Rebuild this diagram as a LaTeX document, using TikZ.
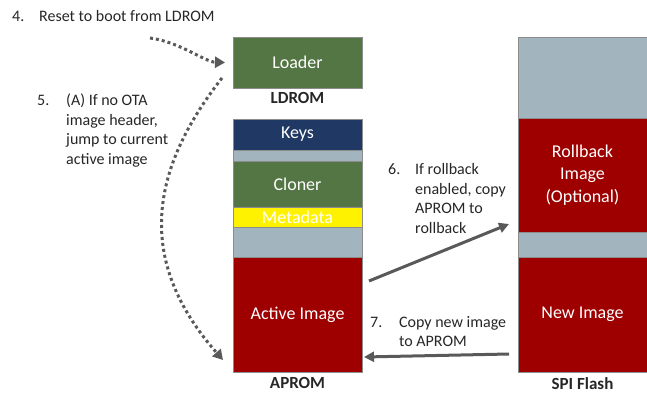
\documentclass[tikz,border=0pt]{standalone}
\usepackage{fontspec}
\setmainfont{Carlito}
\usepackage{tikz}
\usetikzlibrary{positioning, arrows.meta, calc}
\usepackage{xcolor}

\definecolor{ldgreen}{RGB}{84,118,68}
\definecolor{keyblue}{RGB}{31,56,100}
\definecolor{spare}{RGB}{162,180,189}
\definecolor{imgred}{RGB}{158,0,0}
\definecolor{arrowgray}{RGB}{89,89,89}
\definecolor{textdark}{RGB}{38,38,38}

\begin{document}
\begin{tikzpicture}[
  x=1pt, y=-1pt,
  every node/.style={font=\fontsize{16}{19.5}\selectfont, text=textdark},
  block/.style={draw=black!45, line width=0.6pt, minimum width=129pt, inner sep=0pt,
                outer sep=0pt, text=white, font=\fontsize{18}{22.5}\selectfont, align=center},
  memname/.style={font=\fontsize{17}{20}\selectfont\bfseries, anchor=base, inner sep=0pt},
  note/.style={anchor=base west, inner sep=0pt},
  copyarrow/.style={draw=arrowgray, line width=3pt, -{Triangle[length=10pt,width=10pt]}},
  jumparrow/.style={draw=arrowgray, line width=3pt, dash pattern=on 3pt off 3pt,
                    -{Triangle[length=10pt,width=11pt]}}
]
\useasboundingbox (0,0) rectangle (647,406);

% LDROM
\node[block, fill=ldgreen, minimum height=51pt, anchor=north west] (loader) at (233,37) {Loader};
\node[memname] (ldrom) at ($(loader.south)+(0,16)$) {LDROM};

% APROM
\node[block, fill=keyblue, minimum height=31pt, anchor=north west] (keys) at (233,119) {Keys};
\node[block, fill=spare, minimum height=11pt, below=0pt of keys] (gapa) {};
\node[block, fill=ldgreen, minimum height=46pt, below=0pt of gapa] (cloner) {Cloner};
\node[block, fill=yellow, minimum height=20pt, below=0pt of cloner] (meta) {Metadata};
\node[block, fill=spare, minimum height=30pt, below=0pt of meta] (gapb) {};
\node[block, fill=imgred, minimum height=115pt, below=0pt of gapb] (act) {Active Image};
\node[memname] (aprom) at ($(act.south)+(0,16)$) {APROM};

% SPI flash
\node[block, fill=spare, minimum height=81pt, anchor=north west] (spitop) at (518,37) {};
\node[block, fill=imgred, minimum height=114pt, below=0pt of spitop] (rb) {Rollback\\Image\\(Optional)};
\node[block, fill=spare, minimum height=25pt, below=0pt of rb] (gapc) {};
\node[block, fill=imgred, minimum height=115pt, below=0pt of gapc] (ni) {New Image};
\node[memname] (spi) at ($(ni.south)+(0,17)$) {SPI Flash};

% steps
\node[note] (s4) at (12,22) {\begin{tabular}[t]{@{}p{27pt}@{}l@{}}4. & Reset to boot from LDROM\end{tabular}};
\node[note] (s5) at (37,106) {\begin{tabular}[t]{@{}p{29pt}@{}l@{}}5. & (A) If no OTA\\ & image header,\\ & jump to current\\ & active image\end{tabular}};
\node[note] (s6) at (388,175) {\begin{tabular}[t]{@{}p{27pt}@{}l@{}}6. & If rollback\\ & enabled, copy\\ & APROM to\\ & rollback\end{tabular}};
\node[note] (s7) at (370,327) {\begin{tabular}[t]{@{}p{29pt}@{}l@{}}7. & Copy new image\\ & to APROM\end{tabular}};

% jumps
\coordinate (rst) at (150,38);
\draw[jumparrow] (rst) .. controls (180,42) and (205,62) .. ($(loader.west)+(-8,0)$);
\draw[jumparrow] ($(loader.south west)+(-11,-10)$) .. controls (150,170) and (135,260) .. ($(act.south west)+(-10,-12)$);

% copies
\draw[copyarrow] ($(act.north east)+(7,24)$) -- ($(rb.south west)+(-9,-8)$);
\draw[copyarrow] ($(ni.south west)+(-9,-18)$) -- ($(act.south east)+(2,-15)$);

\end{tikzpicture}
\end{document}
